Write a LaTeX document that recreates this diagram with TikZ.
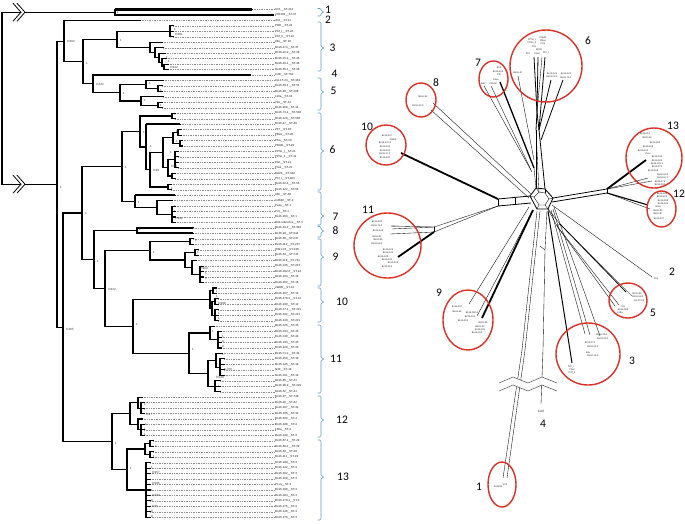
\documentclass[tikz,border=0pt]{standalone}
\usepackage{fontspec}
\setmainfont{Liberation Sans}
\newfontfamily\numfont{Carlito}
\usetikzlibrary{calc,shapes.geometric}
\definecolor{circred}{RGB}{218,48,38}
\definecolor{bracecol}{RGB}{91,155,213}
\newcommand\tedge[2]{\draw[br] (#1) |- (#2);}
\newcommand\grpbrace[3]{\draw[bracestyle,rounded corners=1.2pt] (317.5,#1) -- (321,#1) -- (321,{#3-1.2}) -- (324.5,#3) -- (321,{#3+1.2}) -- (321,#2) -- (317.5,#2);}
\begin{document}
\begin{tikzpicture}[x=1pt,y=-1pt,
  br/.style={line width=1.1pt,line cap=rect},
  thk/.style={line width=2.1pt},
  leafdash/.style={black!45,line width=0.35pt,dash pattern=on 1pt off 0.7pt},
  leaflab/.style={anchor=west,inner sep=0pt,text=black!90,font=\fontsize{2.9}{3}\selectfont},
  supp/.style={anchor=west,inner sep=0pt,text=black!80,font=\fontsize{3}{3}\selectfont},
  grpnum/.style={inner sep=0pt,font=\numfont\fontsize{11.5}{12}\selectfont},
  bracestyle/.style={draw=bracecol,line width=0.6pt},
  nl/.style={inner sep=0pt,text=black!85,font=\fontsize{2.4}{2.6}\selectfont},
  net/.style={line width=0.35pt},
  netm/.style={line width=0.8pt},
  netthk/.style={line width=1.8pt},
  ring/.style={draw=circred,line width=1.4pt,inner sep=0pt}]
\useasboundingbox (0,0) rectangle (685,523);

% ---------------- leaf labels and tips ----------------
\foreach \t [count=\i] in {SV1\_\_ST-414,2H1293\_\_ST-37,JD1\_\_ST-11,PDH\_\_ST-24,PKf\_I\_\_ST-24,PKf\_II\_\_ST-24,94a\_\_ST-10,Bs16-174\_\_ST-37,Bs16-22-2\_\_ST-46,Bs16-15-2\_\_ST-46,Bs16-16-1\_\_ST-46,Bs16-55-1\_\_ST-46,CA8\_\_ST-762,CA-1T-24\_\_ST-333,Bs16-59-1\_\_ST-51,Bs16-80\_\_ST-268,118a\_\_ST-34,72a\_\_ST-14,Bs16-268\_\_ST-14,Bs16-74-1\_\_ST-530,Bs16-120\_\_ST-530,Bs16-47\_\_ST-30,Z57\_\_ST-20,PBee\_\_ST-20,PKa\_\_ST-20,PMeR\_\_ST-20,PPhe\_I\_\_ST-21,PPhe\_II\_\_ST-21,PGI\_\_ST-21,PSal\_\_ST-21,Bsl26\_\_ST-332,PFI\_I\_\_ST-284,Bs16-22-2\_\_ST-55,Bs16-122\_\_ST-55,94b\_\_ST-59,CA502\_\_ST-2,Pase\_\_ST-1,P4I\_\_ST-1,Bs16-163\_\_ST-1,B31-reference\_\_ST-1,Bs16-33-3\_\_ST-302,Bs16-93\_\_ST-641,Bs16-66\_\_ST-237,Bs16-112\_\_ST-237,WI91-23\_\_ST-228,Bs16-54\_\_ST-741,Bs16-118\_\_ST-741,Bs16-136\_\_ST-237,Bs16-192-2\_\_ST-16,Bs16-164\_\_ST-16,Bs16-202\_\_ST-16,29805\_\_ST-12,Bs16-167\_\_ST-12,Bs16-178-2\_\_ST-12,Bs16-230\_\_ST-12,Bs16-17-1\_\_ST-221,Bs16-132\_\_ST-221,Bs16-139\_\_ST-221,Bs16-126\_\_ST-43,Bs16-134\_\_ST-43,Bs16-130\_\_ST-43,Bs16-133\_\_ST-43,Bs16-128\_\_ST-43,Bs16-71-2\_\_ST-44,Bs16-150\_\_ST-19,Bs16-145\_\_ST-19,N40\_\_ST-19,Bs16-151\_\_ST-19,Bs16-85\_\_ST-31,Bs16-99-2\_\_ST-229,Bs16-52\_\_ST-31,Bs16-87\_\_ST-749,Bs16-40\_\_ST-32,Bs16-107\_\_ST-32,Bs16-105\_\_ST-32,Bs16-103\_\_ST-4,Bs16-188\_\_ST-4,156a\_\_ST-4,Bs16-249\_\_ST-4,Bs16-57-1\_\_ST-29,Bs16-60-1\_\_ST-29,Bs16-63\_\_ST-29,Bs16-111\_\_ST-29,Bs16-198\_\_ST-3,Bs16-142\_\_ST-3,Bs16-182\_\_ST-3,Bs16-169\_\_ST-3,PLus\_\_ST-3,Bs16-196\_\_ST-3,Bs16-184\_\_ST-3,Bs16-178-1\_\_ST-3,Bs16-175\_\_ST-3,Bs16-146\_\_ST-3,Bs16-176\_\_ST-3}
  {\node[leaflab] (L\i) at (275,{9.5+(\i-1)*5.46}) {\t};}
\foreach \tx [count=\i] in {252,273,140,173,173,173,162,163,165,166,168,168,250,163,162,162,163,162,162,175,175,180,181,181,182,182,178,178,178,178,175,175,171,171,175,172,175,175,175,175,193,193,193,193,198,198,196,203,203,203,203,216,216,218,218,218,218,218,214,221,221,221,221,222,224,224,224,224,220,220,220,142,144,144,144,142,144,144,144,153,153,153,153,150,150,150,150,150,150,150,150,150,150,150}
  {\coordinate (T\i) at (\tx,{9.5+(\i-1)*5.46});}
\foreach \i in {1,...,94} {\draw[leafdash] (T\i) -- (L\i.west);}

% ---------------- internal nodes ----------------
\coordinate (R) at (2,97);
\coordinate (A) at (115,12.23);
\coordinate (B) at (57,184.2);
\coordinate (C) at (64,41.06);
\coordinate (E) at (83,61.7);
\coordinate (F) at (117,39.4);
\coordinate (H) at (170,31.34);
\coordinate (I) at (150,47.5);
\coordinate (I2) at (155,52.8);
\coordinate (I3) at (159,57.9);
\coordinate (I4) at (162,62.7);
\coordinate (I5) at (164,66.83);
\coordinate (G) at (93,83.9);
\coordinate (J) at (120,92.8);
\coordinate (K) at (146,84.6);
\coordinate (K2) at (158,88.67);
\coordinate (L) at (141,100.96);
\coordinate (L2) at (158,105.05);
\coordinate (D) at (63,327.3);
\coordinate (M) at (82,213);
\coordinate (O) at (122,166.4);
\coordinate (Q) at (140,131.5);
\coordinate (Q1) at (172,115.97);
\coordinate (Q2) at (146,147);
\coordinate (Q3) at (150,169.9);
\coordinate (Q4) at (163,152.8);
\coordinate (Q5) at (168,186.95);
\coordinate (Q6) at (173,137.8);
\coordinate (Q6a) at (178,132.35);
\coordinate (Q6b) at (180,143.27);
\coordinate (Q7) at (168,167.84);
\coordinate (Q7a) at (175,159.65);
\coordinate (Q7b) at (172,176.03);
\coordinate (S) at (135,201.3);
\coordinate (S2) at (157,207.4);
\coordinate (S3) at (172,214.25);
\coordinate (P) at (94,259.6);
\coordinate (P1) at (137,230.63);
\coordinate (U) at (105,288.6);
\coordinate (V) at (150,250.8);
\coordinate (V1) at (190,241.55);
\coordinate (V2) at (185,260);
\coordinate (V3) at (195,252.47);
\coordinate (V4) at (192,267.5);
\coordinate (V5) at (200,274.3);
\coordinate (W) at (133,326.3);
\coordinate (X) at (210,299.5);
\coordinate (X1) at (213,290.69);
\coordinate (X2) at (212,308.4);
\coordinate (X3) at (215,301.61);
\coordinate (X4) at (215,315.26);
\coordinate (Y) at (189,353.1);
\coordinate (Z1) at (210,333);
\coordinate (Z1b) at (218,339.83);
\coordinate (Z2) at (208,373.3);
\coordinate (Z2a) at (216,360.3);
\coordinate (Z2c) at (220,367.13);
\coordinate (Z2b) at (215,386.24);
\coordinate (N) at (112,441.5);
\coordinate (N1) at (130,413.5);
\coordinate (N1a) at (138,402.6);
\coordinate (N1c) at (141,408.08);
\coordinate (N1b) at (138,424.46);
\coordinate (N1d) at (141,429.92);
\coordinate (N2) at (127,469.5);
\coordinate (N3) at (145,449.03);
\coordinate (N3a) at (150,443.57);
\coordinate (N3b) at (150,454.49);
\coordinate (N4) at (146,489.98);

% ---------------- tree edges ----------------
\tedge{R}{A} \tedge{R}{B}
\tedge{A}{T1} \tedge{A}{T2}
\tedge{B}{C} \tedge{B}{D}
\tedge{C}{T3} \tedge{C}{E}
\tedge{E}{F} \tedge{E}{G}
\tedge{F}{H} \tedge{F}{I}
\foreach \c in {T4,T5,T6} {\tedge{H}{\c}}
\tedge{I}{T7} \tedge{I}{I2} \tedge{I2}{T8} \tedge{I2}{I3} \tedge{I3}{T9} \tedge{I3}{I4} \tedge{I4}{T10} \tedge{I4}{I5} \tedge{I5}{T11} \tedge{I5}{T12}
\tedge{G}{T13} \tedge{G}{J} \tedge{J}{K} \tedge{J}{L}
\tedge{K}{T14} \tedge{K}{K2} \tedge{K2}{T15} \tedge{K2}{T16}
\tedge{L}{T17} \tedge{L}{L2} \tedge{L2}{T18} \tedge{L2}{T19}
\tedge{D}{M} \tedge{D}{N}
\tedge{M}{O} \tedge{M}{P}
\tedge{O}{Q} \tedge{O}{S}
\tedge{Q}{Q1} \tedge{Q}{Q2} \tedge{Q1}{T20} \tedge{Q1}{T21} \tedge{Q2}{T22} \tedge{Q2}{Q3}
\tedge{Q3}{Q4} \tedge{Q3}{Q5} \tedge{Q5}{T33} \tedge{Q5}{T34}
\tedge{Q4}{Q6} \tedge{Q4}{Q7} \tedge{Q6}{Q6a} \tedge{Q6}{Q6b}
\tedge{Q6a}{T23} \tedge{Q6a}{T24} \tedge{Q6b}{T25} \tedge{Q6b}{T26}
\tedge{Q7}{Q7a} \tedge{Q7}{Q7b}
\foreach \c in {T27,T28,T29,T30} {\tedge{Q7a}{\c}}
\tedge{Q7b}{T31} \tedge{Q7b}{T32}
\tedge{S}{T35} \tedge{S}{S2} \tedge{S2}{T36} \tedge{S2}{S3}
\foreach \c in {T37,T38,T39,T40} {\tedge{S3}{\c}}
\tedge{P}{P1} \tedge{P}{U} \tedge{P1}{T41} \tedge{P1}{T42}
\tedge{U}{V} \tedge{U}{W}
\tedge{V}{V1} \tedge{V}{V2} \tedge{V1}{T43} \tedge{V1}{T44}
\tedge{V2}{V3} \tedge{V2}{V4} \tedge{V3}{T45} \tedge{V3}{T46} \tedge{V4}{T47} \tedge{V4}{V5}
\foreach \c in {T48,T49,T50,T51} {\tedge{V5}{\c}}
\tedge{W}{X} \tedge{W}{Y}
\tedge{X}{X1} \tedge{X}{X2} \tedge{X1}{T52} \tedge{X1}{T53} \tedge{X2}{X3} \tedge{X2}{X4}
\tedge{X3}{T54} \tedge{X3}{T55}
\foreach \c in {T56,T57,T58} {\tedge{X4}{\c}}
\tedge{Y}{Z1} \tedge{Y}{Z2} \tedge{Z1}{T59} \tedge{Z1}{Z1b}
\foreach \c in {T60,T61,T62,T63} {\tedge{Z1b}{\c}}
\tedge{Z2}{Z2a} \tedge{Z2}{Z2b} \tedge{Z2a}{T64} \tedge{Z2a}{Z2c}
\foreach \c in {T65,T66,T67,T68} {\tedge{Z2c}{\c}}
\foreach \c in {T69,T70,T71} {\tedge{Z2b}{\c}}
\tedge{N}{N1} \tedge{N}{N2} \tedge{N1}{N1a} \tedge{N1}{N1b}
\tedge{N1a}{T72} \tedge{N1a}{N1c}
\foreach \c in {T73,T74,T75} {\tedge{N1c}{\c}}
\tedge{N1b}{T76} \tedge{N1b}{N1d}
\foreach \c in {T77,T78,T79} {\tedge{N1d}{\c}}
\tedge{N2}{N3} \tedge{N2}{N4} \tedge{N3}{N3a} \tedge{N3}{N3b}
\tedge{N3a}{T80} \tedge{N3a}{T81} \tedge{N3b}{T82} \tedge{N3b}{T83}
\foreach \i in {84,...,94} {\tedge{N4}{T\i}}
% long thick branches
\draw[thk] (A |- T1) -- (T1);
\draw[thk] (A |- T2) -- (T2);
\draw[thk] (G |- T13) -- (T13);
\draw[thk] (P1 |- T41) -- (T41);
\draw[thk] (P1 |- T42) -- (T42);
\draw[thk] (S |- T35) -- (T35);
\draw[thk] (Q2 |- T22) -- (T22);
% break marks on the root
\foreach \yy in {12.23,184.2} {
  \fill[white] (13,{\yy-9}) -- (21,\yy) -- (13,{\yy+9}) -- (17,{\yy+9}) -- (25,\yy) -- (17,{\yy-9}) -- cycle;
  \draw[line width=0.8pt] (13,{\yy-9}) -- (21,\yy) -- (13,{\yy+9});
  \draw[line width=0.8pt] (17,{\yy-9}) -- (25,\yy) -- (17,{\yy+9});
}
% support values
\foreach \x/\y/\t [count=\k] in {116.5/12.4/1,60/187/1,67/41/0.982,86/63/1,120/40/1,174/29/1,175/34/0.981,166/57/1,168/61/1,170/67/0.942,96/84/0.342,123/93/1,149/83/1,160/90/1,144/100/1,160/105/1,85/213/1,125/167/1,143/132/1,150/146/1,153/170/0.99,170/152/1,171/166/0.98,176/131/1,176/141/1,174/114/1,171/188/1,138/202/1,174/206/1,174/211/1,175/218/0.991,97/261/1,139/229/1,108/289/0.822,153/252/1,195/240/1,200/268/0.994,205/273/1,205/278/0,197/252/1,136/324/1,216/291/1,216/296/1,218/303/0.998,218/313/1,218/318/1,192/349/1,212/331/1,222/336/1,222/341/0,222/346/0,222/354/1,224/369/0.768,216/377/0.948,218/386/1,66/329/0.265,115/443/1,144/404/1,144/409/1,146/414/0.97,145/424/1,144/429/1,144/434/1,130/468/1,155/446/1,153/456/1,151/467/1,152/472/0.957,152/483/0.995,151/490/1,152/495/0.984,151/500/0,152/506/0.95,151/511/0,151/516/0}
  {\node[supp] (s\k) at (\x,\y) {\t};}

% ---------------- braces and group numbers (tree) ----------------
\grpbrace{8.5}{16}{12}
\grpbrace{22}{71}{48}
\grpbrace{78}{110}{92}
\grpbrace{113}{190}{151}
\grpbrace{192}{225}{216}
\grpbrace{226.5}{237}{231}
\grpbrace{239}{286}{257}
\grpbrace{288}{322}{302}
\grpbrace{325}{393}{359}
\grpbrace{396}{437}{420}
\grpbrace{440}{520}{477}
\node[grpnum,anchor=west] (g1) at (325,9.5) {1};
\node[grpnum,anchor=west] (g2) at (325,20) {2};
\node[grpnum,anchor=west] (g3) at (329.5,48) {3};
\node[grpnum,anchor=west] (g4) at (331.5,74) {4};
\node[grpnum,anchor=west] (g5) at (330.5,91) {5};
\node[grpnum,anchor=west] (g6) at (329.5,150) {6};
\node[grpnum,anchor=west] (g7) at (332.5,217) {7};
\node[grpnum,anchor=west] (g8) at (332.5,231) {8};
\node[grpnum,anchor=west] (g9) at (332.5,257) {9};
\node[grpnum,anchor=west] (g10) at (336,302) {10};
\node[grpnum,anchor=west] (g11) at (330,359) {11};
\node[grpnum,anchor=west] (g12) at (336,420) {12};
\node[grpnum,anchor=west] (g13) at (337,477) {13};

% ---------------- network ----------------
% hub
\coordinate (h1) at (530,196); \coordinate (h2) at (536,188); \coordinate (h3) at (545,189);
\coordinate (h4) at (553,198); \coordinate (h5) at (548,209); \coordinate (h6) at (537,209);
\coordinate (hi1) at (534,197); \coordinate (hi2) at (539,192); \coordinate (hi3) at (545,193);
\coordinate (hi4) at (549,199); \coordinate (hi5) at (545,205); \coordinate (hi6) at (539,205);
\draw[netm] (h1)--(h2)--(h3)--(h4)--(h5)--(h6)--cycle;
\draw[net] (hi1)--(hi2)--(hi3)--(hi4)--(hi5)--(hi6)--cycle;
\foreach \a in {1,...,6} {\draw[net] (h\a)--(hi\a);}
% group 6
\coordinate (b6a) at (536,130); \coordinate (b6b) at (539,130); \coordinate (b6f) at (537,112);
\coordinate (b6c) at (541,140); \coordinate (b6g) at (534,160);
\coordinate (t6a) at (534,57); \coordinate (t6b) at (538,57); \coordinate (t6c) at (542,57); \coordinate (t6d) at (545,57);
\coordinate (t6e) at (551,80); \coordinate (t6f) at (563,80); \coordinate (t6g) at (518,76);
\draw[netm] (h2)--(b6a); \draw[netm] (h3)--(b6b); \draw[net] (hi2)--(b6a);
\draw[netm] (b6a)--(b6f); \draw[netm] (b6b)--(b6f);
\draw[netm] (b6f)--(t6a); \draw[netm] (b6f)--(t6b); \draw[net] (b6f)--(t6c); \draw[netm] (b6b)--(t6d);
\draw[netm] (b6b)--(t6e); \draw[netm] (b6c)--(t6f); \draw[net] (b6g)--(t6g);
% group 7
\coordinate (b7a) at (534,168); \coordinate (b7b) at (532,172); \coordinate (b7c) at (531,170);
\coordinate (t7a) at (500,82); \coordinate (t7b) at (484,86); \coordinate (t7c) at (491,86);
\draw[line width=1.3pt] (b7a)--(t7a); \draw[net] (b7b)--(t7b); \draw[net] (b7c)--(t7c);
\draw[net] (h2)--(b7a);
% group 8
\coordinate (b8a) at (531,194); \coordinate (b8b) at (529,198);
\coordinate (t8a) at (433,103); \coordinate (t8b) at (431,110);
\draw[net] (b8a)--(t8a); \draw[net] (b8b)--(t8b);
% groups 10 and 11
\coordinate (h7) at (531,203); \coordinate (j1) at (498,199); \coordinate (j2) at (498,206);
\coordinate (r1) at (515,198); \coordinate (r2) at (515,205);
\draw[netm] (h1)--(j1); \draw[netm] (h7)--(j2); \draw[net] (j1)--(j2); \draw[net] (r1)--(r2);
\coordinate (t10) at (401,153);
\draw[netthk] (j1)--(t10);
\coordinate (k1) at (434,227); \coordinate (k2) at (434,232);
\draw[net] (j2)--(k1); \draw[net] (j2)--(k2); \draw[net] (k1)--(k2);
\coordinate (t11a) at (392,226); \coordinate (t11b) at (392,229); \coordinate (t11c) at (390,234); \coordinate (t11d) at (398,257);
\draw[net] (k1)--(t11a); \draw[net] (k1)--(t11b); \draw[net] (k2)--(t11c); \draw[netthk] (k2)--(t11d);
% group 9
\coordinate (b9a) at (533,210); \coordinate (b9b) at (529,207);
\coordinate (t9a) at (482,318); \coordinate (t9b) at (469,304); \coordinate (t9c) at (477,316);
\draw[netthk] (b9a)--(t9a); \draw[net] (b9b)--(t9b); \draw[net] (b9a)--(t9c);
% groups 1 and 4
\coordinate (b1a) at (537,211); \coordinate (b1c) at (540,211); \coordinate (b1b) at (547,211);
\coordinate (f1) at (545,250); \coordinate (f2) at (540,246);
\coordinate (m1) at (522,350); \coordinate (m3) at (525,350); \coordinate (m2) at (543,350);
\coordinate (t1a) at (503,478); \coordinate (t1b) at (507,478); \coordinate (t4) at (541,404);
\draw[net] (b1a)--(m1); \draw[net] (b1c)--(m3); \draw[net] (b1b)--(f1)--(m2); \draw[net] (f1)--(f2);
\draw[net] (m1)--(t1a); \draw[net] (m3)--(t1b); \draw[net] (m2)--(t4);
\fill[white] (499,383) -- (513,377) -- (528,383) -- (542,377) -- (557,383) -- (557,391) -- (542,385) -- (528,391) -- (513,385) -- (499,391) -- cycle;
\draw[line width=0.5pt,black!70] (499,383) -- (513,377) -- (528,383) -- (542,377) -- (557,383);
\draw[line width=0.5pt,black!70] (499,391) -- (513,385) -- (528,391) -- (542,385) -- (557,391);
% group 3
\coordinate (b3a) at (548,211); \coordinate (b3b) at (551,210); \coordinate (b3c) at (553,209); \coordinate (b3d) at (554,207);
\coordinate (t3a) at (572,363); \coordinate (t3b) at (585,334); \coordinate (t3c) at (590,335); \coordinate (t3d) at (600,336);
\draw[line width=1pt] (b3a)--(t3a); \draw[net] (b3b)--(t3b); \draw[net] (b3c)--(t3c); \draw[net] (b3d)--(t3d);
% group 5
\coordinate (b5a) at (560,224); \coordinate (b5b) at (557,226);
\coordinate (t5a) at (626,292); \coordinate (t5b) at (632,296); \coordinate (t5c) at (615,306); \coordinate (t5d) at (619,305);
\draw[net] (h5)--(b5a); \draw[net] (h5)--(b5b); \draw[net] (b5a)--(b5b);
\draw[netm] (b5a)--(t5a); \draw[net] (b5a)--(t5b); \draw[net] (b5b)--(t5c); \draw[net] (b5b)--(t5d);
% group 2
\coordinate (b2) at (552,205); \coordinate (t2) at (652,277);
\draw[net] (b2)--(t2);
% groups 12 and 13
\coordinate (h4b) at (552,202); \coordinate (q1) at (607,189); \coordinate (q2) at (607,193);
\draw[netm] (h4)--(q1); \draw[netm] (h4b)--(q2); \draw[net] (q1)--(q2);
\coordinate (t13a) at (646,160); \coordinate (t13b) at (648,178); \coordinate (t13c) at (652,181);
\coordinate (t12a) at (648,205); \coordinate (t12b) at (650,209);
\draw[netthk] (q1)--(t13a); \draw[net] (q1)--(t13b); \draw[net] (q1)--(t13c);
\draw[line width=1.1pt] (q2)--(t12a); \draw[net] (q2)--(t12b);

% circles
\node[ring,ellipse,minimum width=28pt,minimum height=45pt] (C1) at (502,484.5) {};
\node[ring,ellipse,minimum width=64pt,minimum height=62pt] (C3) at (588,354) {};
\node[ring,ellipse,minimum width=38pt,minimum height=35pt] (C5) at (628,300.5) {};
\node[ring,circle,minimum size=72pt] (C6) at (546,66) {};
\node[ring,ellipse,minimum width=29pt,minimum height=36pt] (C7) at (493.5,79) {};
\node[ring,ellipse,minimum width=30pt,minimum height=34pt] (C8) at (421,100) {};
\node[ring,ellipse,minimum width=50pt,minimum height=60pt] (C9) at (468,320) {};
\node[ring,circle,minimum size=40pt] (C10) at (386,145) {};
\node[ring,ellipse,minimum width=67pt,minimum height=65pt] (C11) at (387.5,245.5) {};
\node[ring,ellipse,minimum width=29pt,minimum height=36pt] (C12) at (661.5,209) {};
\node[ring,ellipse,minimum width=56pt,minimum height=60pt] (C13) at (654,158) {};

% network leaf texts
\foreach \x/\y/\t [count=\k] in {532/40/PPhe\_I,532/43/PPhe\_II,543/38/PMeR,543/41/PBee,543/44/PKa,534/47/PGI,539/50/Bsl26,528/54/Z57,537/54/PSal,546/53/PFI\_I,518/73/Bs16-47,552/74/Bs16-122,552/77/Bs16-22-2,566/74/Bs16-120,566/78/Bs16-74-1,
499/68/B31,498/72/Bs16-163,499/75/P4I,496/80/Pase,483/84/94b,493/84/CA502,
423/97/Bs16-93,418/106/Bs16-33-3,
387/136/Bs16-167,393/140/29805,385/143/Bs16-178-2,385/147/Bs16-139,385/151/Bs16-132,385/154/Bs16-17-1,385/158/Bs16-230,
377/222/Bs16-150,377/226/Bs16-71-2,378/231/Bs16-145,393/227/N40,377/237/Bs16-52,378/240/Bs16-85,377/244/Bs16-99-2,388/250/Bs16-126,388/253/Bs16-134,383/257/Bs16-128,387/260/Bs16-130,393/263/Bs16-133,387/267/Bs16-151,
457/307/Bs16-112,457/312/Bs16-66,472/313/Bs16-192-2,470/317/Bs16-164,463/321/Bs16-202,483/323/Bs16-54,480/327/WI91-23,480/330/Bs16-118,477/333/Bs16-136,
637/294/Bs16-80,638/297/Bs16-59-1,639/301/CA-1T-24,623/307/72a,623/310/Bs16-268,620/313/118a,
602/335/Bs16-16-1,603/339/Bs16-55-1,590/343/Bs16-174,593/347/Bs16-22-2,588/353/94a,593/356/Bs16-15-2,571/367/PKf\_I,572/370/PDH,572/373/PKf\_II,
662/194/Bs16-249,662/197/Bs16-103,663/201/Bs16-188,663/204/Bs16-105,658/207/156a,658/211/Bs16-40,658/214/Bs16-87,659/219/Bs16-107,
645/134/Bs16-111,647/138/Bs16-63,655/143/Bs16-184,648/147/Bs16-196,643/151/Bs16-142,648/154/PLus,657/157/Bs16-146,657/161/Bs16-169,657/164/Bs16-178-1,657/167/Bs16-175,653/171/Bs16-198,663/175/Bs16-60-1,663/178/Bs16-57-1,660/182/Bs16-176,660/185/Bs16-182,
498/487/2H1293,505/485/SV1,656/279/JD1}
  {\node[nl] (n\k) at (\x,\y) {\t};}
\node[inner sep=0pt,text=black!80,font=\fontsize{3.2}{3.4}\selectfont] (ca8) at (541,411) {CA8};

% network group numbers
\node[grpnum] (ng1) at (479,487) {1};
\node[grpnum] (ng2) at (672,272) {2};
\node[grpnum] (ng3) at (632,361) {3};
\node[grpnum] (ng4) at (543,424) {4};
\node[grpnum] (ng5) at (653,313) {5};
\node[grpnum] (ng6) at (588,41) {6};
\node[grpnum] (ng7) at (478,63) {7};
\node[grpnum] (ng8) at (436,83) {8};
\node[grpnum] (ng9) at (439,293) {9};
\node[grpnum] (ng10) at (367,127) {10};
\node[grpnum] (ng11) at (368,210) {11};
\node[grpnum] (ng12) at (679,194) {12};
\node[grpnum] (ng13) at (673,126) {13};
\end{tikzpicture}
\end{document}
